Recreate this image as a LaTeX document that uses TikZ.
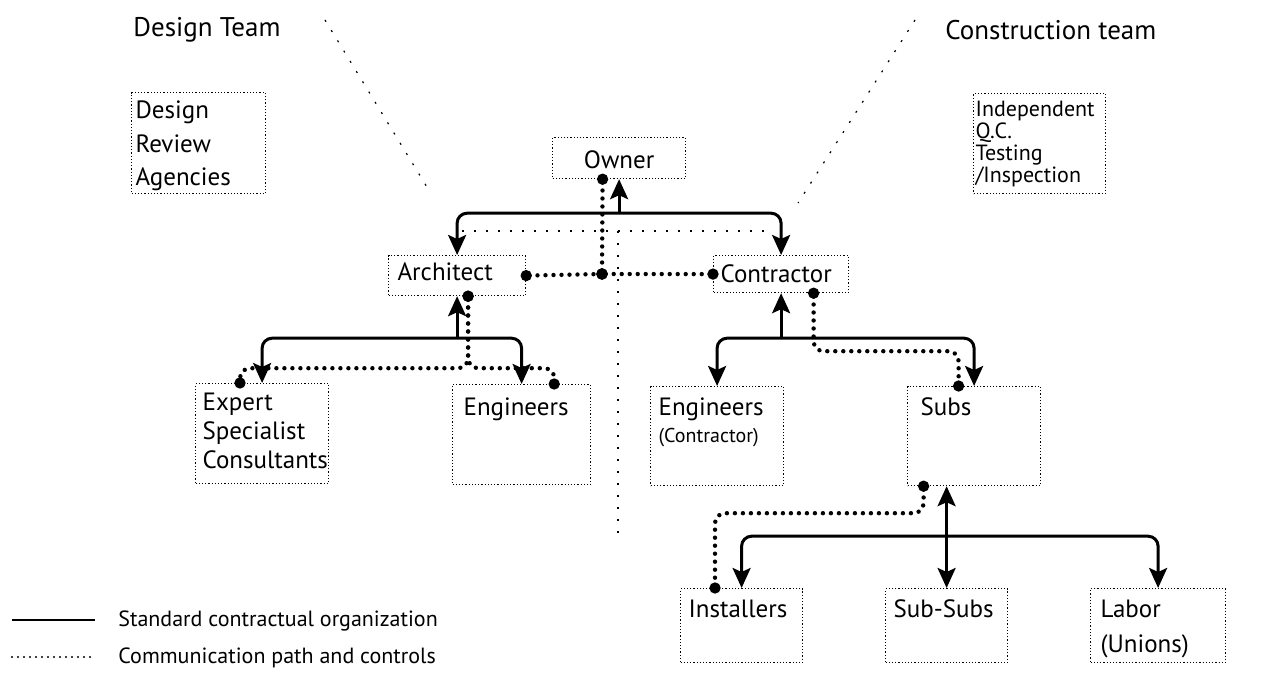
\documentclass[tikz,border=0pt]{standalone}
\usepackage{fontspec}
\setmainfont{PT Sans}
\usetikzlibrary{arrows.meta,calc}

\begin{document}
\begin{tikzpicture}[x=0.5pt,y=-0.5pt,font=\fontsize{12.5}{15}\selectfont,
  unit/.style={draw,densely dotted,line width=0.6pt,anchor=north west,align=left,inner ysep=0pt},
  contract/.style={line width=1.5pt,rounded corners=5pt,-{Stealth[length=10pt,width=9pt,inset=2pt]}},
  comm/.style={line width=2.2pt,line cap=round,dash pattern=on 0pt off 4pt,rounded corners=5pt,
    {Circle[length=5.5pt,sep=-2.75pt]}-{Circle[length=5.5pt,sep=-2.75pt]}},
  divide/.style={line width=0.6pt,dash pattern=on 1pt off 5pt}]
            \tikzstyle{every node}+=[inner sep=0pt]
            \useasboundingbox (0,0) rectangle (1268,683);
            \node[anchor=base west,font=\fontsize{13.5}{16}\selectfont] (designteam) at (133,37) {Design Team};
            \node[anchor=base west,font=\fontsize{13.5}{16}\selectfont] (buildteam) at (945,40) {Construction team};
            \node[unit,text width=63pt,inner xsep=2pt,text height=13pt,text depth=37.5pt,font=\fontsize{12.5}{16.75}\selectfont] (review) at (131,92) {Design\\Review\\Agencies};
            \node[unit,text width=64pt,inner xsep=1pt,text height=11.5pt,text depth=38.5pt,font=\fontsize{11}{9.7}\selectfont] (qc) at (973,93) {Independent\\Q.C.\\Testing\\/Inspection};
            \node[unit,align=center,text width=60.5pt,inner xsep=3pt,text height=15.5pt,text depth=5pt] (owner) at (552,137) {Owner};
            \node[unit,text width=59.5pt,inner xsep=4.5pt,text height=12.5pt,text depth=7.5pt] (architect) at (388,255) {Architect};
            \node[unit,text width=60.5pt,inner xsep=3.5pt,text height=13.5pt,text depth=5pt] (contractor) at (713,255) {Contractor};
            \node[unit,text width=59.5pt,inner xsep=3.5pt,text height=13.5pt,text depth=36.5pt,font=\fontsize{12.5}{14.5}\selectfont] (expert) at (195,383) {Expert\\Specialist\\Consultants};
            \node[unit,text width=58pt,inner xsep=5.5pt,text height=15.5pt,text depth=34.5pt] (engD) at (452,384) {Engineers};
            \node[unit,text width=58.5pt,inner xsep=4pt,text height=14.5pt,text depth=35pt] (engC) at (650,386) {Engineers\\[-1.5pt]{\fontsize{10}{12}\selectfont(Contractor)}};
            \node[unit,text width=53.5pt,inner xsep=6.5pt,text height=14.5pt,text depth=35pt] (subs) at (907,386) {Subs};
            \node[unit,text width=53pt,inner xsep=4pt,text height=14.5pt,text depth=22.5pt] (installers) at (680,588) {Installers};
            \node[unit,text width=53pt,inner xsep=4pt,text height=14.5pt,text depth=22.5pt] (subsubs) at (885,588) {Sub-Subs};
            \node[unit,text width=57.5pt,inner xsep=5pt,text height=14.5pt,text depth=22.5pt] (labor) at (1090,588) {Labor\\[2.5pt](Unions)};
            \node[anchor=base west,font=\fontsize{11}{13}\selectfont] (keycontract) at (118,626) {Standard contractual organization};
            \node[anchor=base west,font=\fontsize{11}{13}\selectfont] (keycomm) at (118,663) {Communication path and controls};
            \draw[divide] (325,20) -- (430,192);
            \draw[divide] (915,20) -- (798,203);
            \draw[divide] (462,231) -- (770,231);
            \draw[divide] (618,231) -- (618,540);
            \coordinate (ownerJ) at ($(owner.south)+(0,34)$);
            \draw[contract] (ownerJ) -- (owner.south);
            \draw[contract] (ownerJ) -| (architect.north);
            \draw[contract] (ownerJ) -| (contractor.north);
            \coordinate (archJ) at ($(architect.south)+(0,42)$);
            \draw[contract] (archJ) -- (architect.south);
            \draw[contract] (archJ) -| (expert.north);
            \draw[contract] (archJ) -| (engD.north);
            \coordinate (conJ) at ($(contractor.south)+(0,45)$);
            \draw[contract] (conJ) -- (contractor.south);
            \draw[contract] (conJ) -| (engC.north);
            \draw[contract] (conJ) -| (subs.north);
            \coordinate (subsS) at (subs.south -| subsubs.north);
            \coordinate (subsJ) at ($(subsS)+(0,50)$);
            \draw[contract] (subsJ) -- (subsS);
            \draw[contract] (subsJ) -- (subsubs.north);
            \draw[contract] (subsJ) -| (installers.north);
            \draw[contract] (subsJ) -| (labor.north);
            \coordinate (hub) at (602,274);
            \draw[comm] ($(owner.south)+(-16.5,0)$) -- (hub);
            \draw[comm] (architect.east) -- (hub);
            \draw[comm] (contractor.west) -- (hub);
            \draw[comm] ($(architect.south)+(11,0)$) -- ++(0,72) -| ($(expert.north west)+(45,0)$);
            \draw[comm] ($(architect.south)+(11,0)$) -- ++(0,72) -| ($(engD.north east)+(-37,0)$);
            \draw[comm] ($(contractor.south)+(32.5,0)$) -- ++(0,58) -| ($(subs.north)+(-15.5,0)$);
            \draw[comm] ($(subs.south)+(-50.5,0)$) -- ++(0,27) -| ($(installers.north west)+(35,0)$);
            \draw[line width=1pt] (12,620) -- (95,620);
            \draw[line width=1.2pt,line cap=round,dash pattern=on 0pt off 3pt] (12,657) -- (90,657);
            \end{tikzpicture}
\end{document}
